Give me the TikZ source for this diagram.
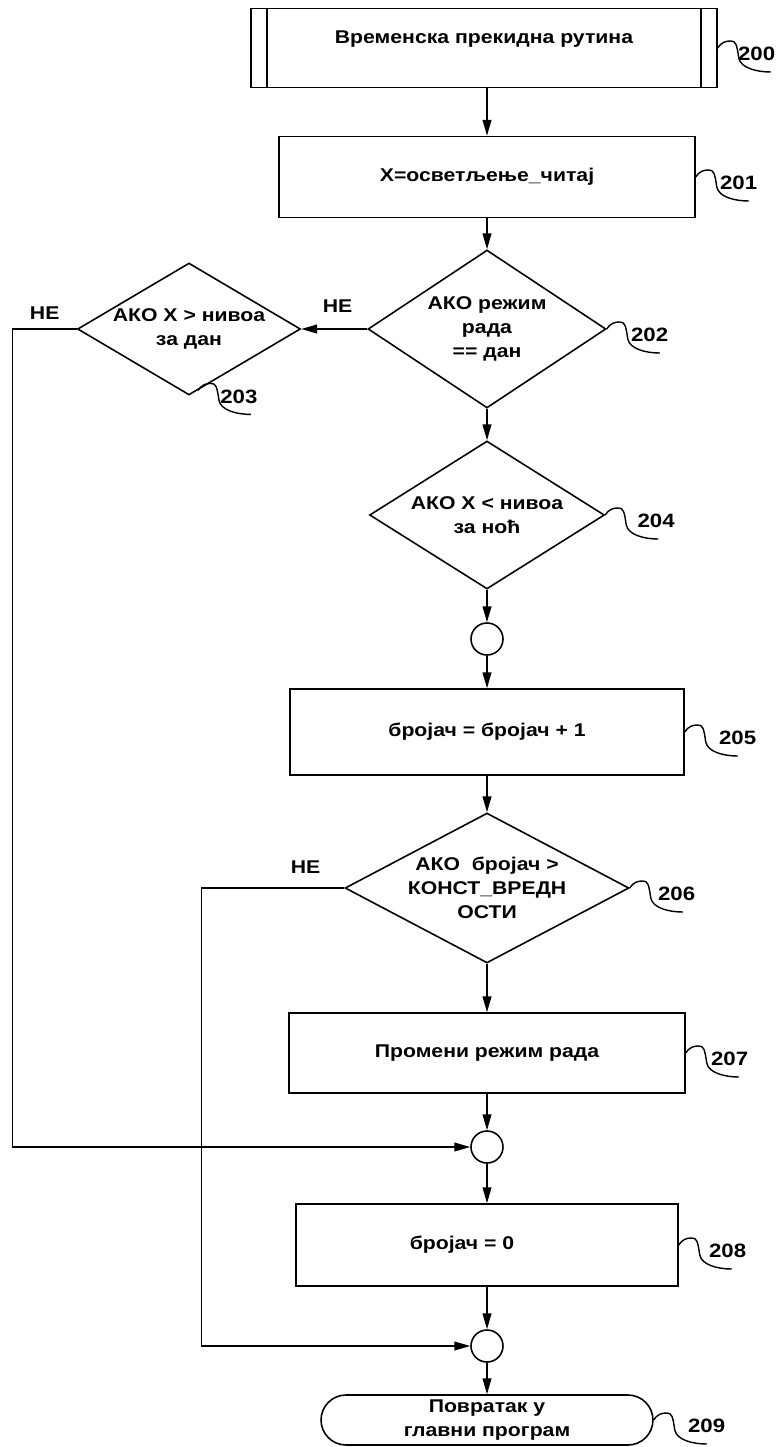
\documentclass[tikz,border=0pt]{standalone}
\usepackage{fontspec}
\setmainfont{Liberation Sans}[FakeStretch=1.15]
\usepackage{tikz}
\usetikzlibrary{positioning,arrows.meta,shapes.geometric,calc}
\newcommand{\chartfont}{\bfseries\fontsize{10.5}{13.5}\selectfont}
\tikzset{
  box/.style={draw, line width=0.9pt, align=center, inner sep=2pt, font=\chartfont},
  predef/.style={box, path picture={
      \draw[line width=0.9pt] ([xshift=0.32cm]path picture bounding box.north west) -- ([xshift=0.32cm]path picture bounding box.south west)
        ([xshift=-0.32cm]path picture bounding box.north east) -- ([xshift=-0.32cm]path picture bounding box.south east);}},
  dec/.style={diamond, draw, line width=0.9pt, align=center, inner sep=-3pt, font=\chartfont},
  joint/.style={circle, draw, line width=0.9pt, minimum size=0.64cm, inner sep=0pt},
  arr/.style={-{Triangle[length=9pt,width=5pt]}, line width=0.8pt},
  lead/.style={line width=0.8pt},
  reftext/.style={anchor=west, inner sep=0pt, font=\bfseries\fontsize{11}{13}\selectfont},
  ne/.style={font=\chartfont},
}
% reference numeral with its hooked leader
\newcommand{\refmark}[3][28]{%
  \draw[lead] #2 .. controls +(4,-6) and +(-5,0) .. ++(13,-7)
    .. controls +(5,0) and +(-2,-14) .. ++(8,17)
    .. controls +(2,10) and +(-14,0) .. ++(32,14);
  \path #2 ++(#1,6) node[reftext] (r#3) {#3};}

\begin{document}
\begin{tikzpicture}[x=0.02cm, y=-0.02cm]
  \useasboundingbox (0,0) rectangle (777,1447);
  % main column
  \node[predef, minimum width=9.32cm, minimum height=1.58cm, text height=8pt, text depth=13.6pt] (b200) at (484,48) {Временска прекидна рутина};
  \node[box, minimum width=8.32cm, minimum height=1.62cm] (b201) at (487,177) {X=осветљење\_читај};
  \node[dec, aspect=1.5, minimum width=4.76cm, minimum height=3.16cm] (d202) at (487,329) {АКО режим\\рада\\== дан};
  \node[dec, aspect=1.69, minimum width=4.46cm, minimum height=2.64cm] (d203) at (189,329) {АКО X > нивоа\\за дан};
  \node[dec, aspect=1.59, minimum width=4.7cm, minimum height=2.96cm] (d204) at (487,515) {АКО X < нивоа\\за ноћ};
  \node[joint] (c1) at (487,639) {};
  \node[box, minimum width=7.88cm, minimum height=1.72cm] (b205) at (487,732) {бројач = бројач + 1};
  \node[dec, aspect=1.89, minimum width=5.68cm, minimum height=3cm] (d206) at (487,888) {АКО\ \ бројач >\\КОНСТ\_ВРЕДН\\ОСТИ};
  \node[box, minimum width=7.92cm, minimum height=1.6cm] (b207) at (487,1053) {Промени режим рада};
  \node[joint] (c2) at (487,1147) {};
  \node[box, minimum width=7.64cm, minimum height=1.64cm] (b208) at (487,1245) {бројач = 0\hspace*{1cm}};
  \node[joint] (c3) at (487,1346) {};
  \node[box, rounded corners=0.5cm, minimum width=6.64cm, minimum height=1cm, inner sep=0pt] (t209) at (487,1420) {Повратак у\\главни програм};

  % flow
  \draw[arr] (b200.south -| b201) -- (b201);
  \draw[arr] (b201) -- (d202);
  \draw[arr] (d202) -- (d204);
  \draw[arr] (d204) -- (c1);
  \draw[arr] (c1) -- (b205);
  \draw[arr] (b205) -- (d206);
  \draw[arr] (d206) -- (b207);
  \draw[arr] (b207) -- (c2);
  \draw[arr] (c2) -- (b208);
  \draw[arr] (b208) -- (c3);
  \draw[arr] (c3) -- (t209);
  \draw[arr] (d202.west) -- node[ne, pos=0.45, above=0.2cm] (ne202) {НЕ} (d203.east);
  \draw[arr] (d203.west) -- node[ne, above=0.05cm] (ne203) {НЕ} ++(-64,0) |- (c2.west);
  \draw[arr] (d206.west) -- node[ne, pos=0.27, above=0.15cm] (ne206) {НЕ} ++(-143,0) |- (c3.west);

  % reference numerals
  \refmark[20]{(b200.east)}{200}
  \refmark[24]{(b201.east)}{201}
  \refmark[24]{(d202.east)}{202}
  \refmark[22]{($(d203.south)!0.08!(d203.east)$)}{203}
  \refmark[32]{(d204.east)}{204}
  \refmark[34]{(b205.east)}{205}
  \refmark[28]{(d206.east)}{206}
  \refmark[25]{(b207.east)}{207}
  \refmark[30]{(b208.east)}{208}
  \refmark[34]{(t209.east)}{209}
\end{tikzpicture}
\end{document}
